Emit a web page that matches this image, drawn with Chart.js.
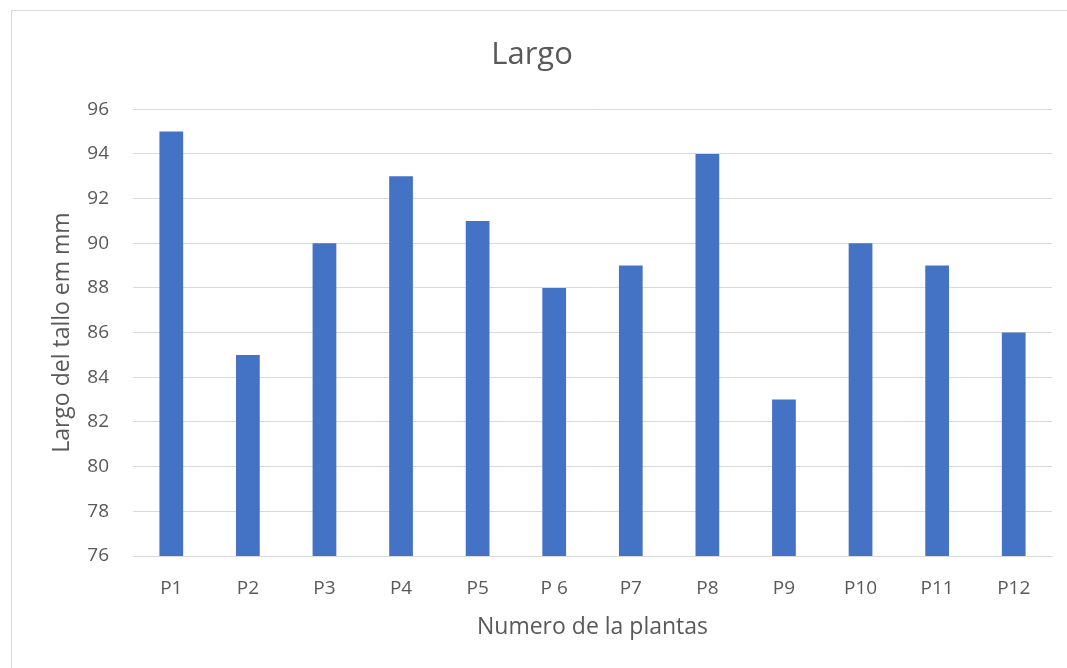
<!DOCTYPE html>
<html>
<head>
<meta charset="utf-8">
<script src="https://cdn.jsdelivr.net/npm/chart.js@4.4.1/dist/chart.umd.min.js"></script>
<style>
  body { margin: 0; background: #fff; overflow: hidden; }
  #box { position: absolute; left: 11px; top: 10px; width: 1060px; height: 670px; border: 1px solid #d9d9d9; }
  #wrap { position: absolute; left: 0; top: 0; width: 1055px; height: 657px; }
</style>
</head>
<body>
<div id="box"><div id="wrap"><canvas id="myChart"></canvas></div></div>
<script>
const plantas = ['P1', 'P2', 'P3', 'P4', 'P5', 'P 6', 'P7', 'P8', 'P9', 'P10', 'P11', 'P12'];
const largo = [95, 85, 90, 93, 91, 88, 89, 94, 83, 90, 89, 86];
const yMin = 76;
const yMax = 96;

const FONT = "'Open Sans', 'Noto Sans', sans-serif";
const GREY = '#595959';

const ctx = document.getElementById('myChart').getContext('2d');
new Chart(ctx, {
  type: 'bar',
  data: {
    labels: plantas,
    datasets: [{
      label: 'Largo',
      data: largo,
      backgroundColor: '#4472C4',
      borderWidth: 0,
      barPercentage: 0.31,
      categoryPercentage: 1.0,
    }],
  },
  options: {
    responsive: true,
    maintainAspectRatio: false,
    animation: false,
    layout: { padding: { left: 0, right: 15, top: 0, bottom: 0 } },
    plugins: {
      legend: { display: false },
      tooltip: { enabled: false },
      title: {
        display: true,
        text: 'Largo',
        color: GREY,
        font: { family: FONT, size: 31, weight: 'normal' },
        padding: { top: 26, bottom: 35 },
      },
    },
    scales: {
      x: {
        grid: { display: false, drawTicks: false },
        border: { display: true, color: '#d9d9d9', width: 1 },
        ticks: { color: GREY, font: { family: FONT, size: 19 }, padding: 21 },
        title: {
          display: true,
          text: 'Numero de la plantas',
          color: GREY,
          font: { family: FONT, size: 23 },
          padding: { top: 0, bottom: 27 },
        },
        afterFit: (scale) => { scale.height = 112; },
      },
      y: {
        min: yMin,
        max: yMax,
        grid: { color: '#d9d9d9', drawTicks: false },
        border: { display: false },
        ticks: { stepSize: 2, color: GREY, font: { family: FONT, size: 19 }, padding: 24 },
        title: {
          display: true,
          text: 'Largo del tallo em mm',
          color: GREY,
          font: { family: FONT, size: 23 },
          padding: { top: 37, bottom: 0 },
        },
        afterFit: (scale) => { scale.width = 121; },
      },
    },
  },
});
</script>
</body>
</html>
